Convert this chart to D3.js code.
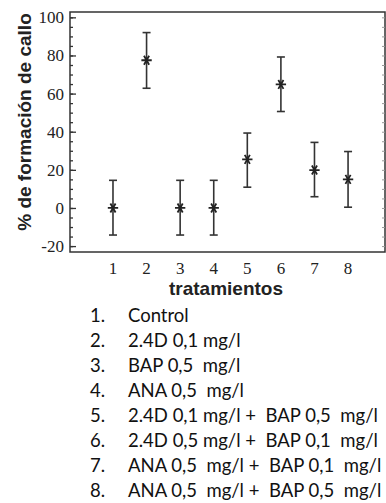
<!DOCTYPE html>
<html>
<head>
<meta charset="utf-8">
<script src="https://cdn.jsdelivr.net/npm/d3@7"></script>
<style>
  body { margin: 0; background: #fff; }
  svg { display: block; }
</style>
</head>
<body>
<svg id="chart" width="386" height="503"></svg>
<script>
// values
const treatments = [1, 2, 3, 4, 5, 6, 7, 8];
const means = [0, 77.5, 0, 0, 25.5, 64.8, 19.9, 15];
const upper = [14.5, 92, 14.5, 14.5, 39.3, 79.2, 34.4, 29.6];
const lower = [-14.2, 62.8, -14.2, -14.2, 10.9, 50.6, 5.9, 0.4];
const yTicks = [-20, 0, 20, 40, 60, 80, 100];
const legendItems = [
  'Control',
  '2.4D 0,1 mg/l',
  'BAP 0,5  mg/l',
  'ANA 0,5  mg/l',
  '2.4D 0,1 mg/l +  BAP 0,5  mg/l',
  '2.4D 0,5 mg/l +  BAP 0,1  mg/l',
  'ANA 0,5  mg/l +  BAP 0,1  mg/l',
  'ANA 0,5  mg/l +  BAP 0,5  mg/l'
];

const ink = '#333';
const box = { left: 70, right: 385, top: 12, bottom: 252 };

const svg = d3.select('#chart');

const x = d3.scaleLinear()
  .domain([-0.28, 9.1])
  .range([box.left, box.right]);

const y = d3.scaleLinear()
  .domain([-23.1, 102.8])
  .range([box.bottom, box.top]);

// frame
svg.append('rect')
  .attr('x', box.left)
  .attr('y', box.top)
  .attr('width', box.right - box.left)
  .attr('height', box.bottom - box.top)
  .attr('fill', 'none')
  .attr('stroke', ink)
  .attr('stroke-width', 1.5);

// left axis: ticks inward
const left = svg.append('g').attr('transform', 'translate(' + box.left + ',0)');
left.call(d3.axisRight(y).tickValues(d3.range(-20, 101, 5)).tickSize(3).tickFormat(''))
  .call(g => g.select('.domain').remove());
left.append('g')
  .call(d3.axisRight(y).tickValues(yTicks).tickSize(6).tickFormat(''))
  .call(g => g.select('.domain').remove());
left.selectAll('line').attr('stroke', ink).attr('stroke-width', 1.3);

// y tick labels, serif
svg.append('g')
  .selectAll('text')
  .data(yTicks)
  .enter()
  .append('text')
  .attr('x', box.left - 6)
  .attr('y', d => y(d))
  .attr('dy', '0.35em')
  .attr('text-anchor', 'end')
  .attr('font-family', '"Liberation Serif", "DejaVu Serif", serif')
  .attr('font-size', 17)
  .attr('fill', '#222')
  .text(d => d);

// right axis: ticks inward
const right = svg.append('g').attr('transform', 'translate(' + box.right + ',0)');
right.call(d3.axisLeft(y).tickValues(d3.range(-20, 101, 5)).tickSize(3).tickFormat(''))
  .call(g => g.select('.domain').remove());
right.selectAll('line').attr('stroke', '#999').attr('stroke-width', 1);

// x tick labels
svg.append('g')
  .selectAll('text')
  .data(treatments)
  .enter()
  .append('text')
  .attr('x', d => x(d))
  .attr('y', 274)
  .attr('text-anchor', 'middle')
  .attr('font-family', '"Liberation Serif", "DejaVu Serif", serif')
  .attr('font-size', 17)
  .attr('fill', '#222')
  .text(d => d);

// error bars
const bars = svg.append('g')
  .selectAll('g')
  .data(treatments)
  .enter()
  .append('g')
  .attr('stroke', ink)
  .attr('stroke-width', 1.6);

bars.append('line')
  .attr('x1', d => x(d)).attr('x2', d => x(d))
  .attr('y1', (d, i) => y(upper[i]))
  .attr('y2', (d, i) => y(lower[i]));
bars.append('line')
  .attr('x1', d => x(d) - 4).attr('x2', d => x(d) + 4)
  .attr('y1', (d, i) => y(upper[i])).attr('y2', (d, i) => y(upper[i]));
bars.append('line')
  .attr('x1', d => x(d) - 4).attr('x2', d => x(d) + 4)
  .attr('y1', (d, i) => y(lower[i])).attr('y2', (d, i) => y(lower[i]));

// asterisk markers
svg.append('g')
  .selectAll('path')
  .data(treatments)
  .enter()
  .append('path')
  .attr('d', d3.symbol(d3.symbolAsterisk, 75))
  .attr('transform', (d, i) => 'translate(' + x(d) + ',' + y(means[i]) + ') rotate(90)')
  .attr('fill', 'none')
  .attr('stroke', '#222')
  .attr('stroke-width', 1.8);

// axis titles
svg.append('text')
  .attr('transform', 'translate(31,122) rotate(-90)')
  .attr('text-anchor', 'middle')
  .attr('font-family', '"Liberation Sans", Arial, sans-serif')
  .attr('font-weight', 'bold')
  .attr('font-size', 19)
  .attr('fill', '#222')
  .text('% de formación de callo');

svg.append('text')
  .attr('x', 226)
  .attr('y', 295)
  .attr('text-anchor', 'middle')
  .attr('font-family', '"Liberation Sans", Arial, sans-serif')
  .attr('font-weight', 'bold')
  .attr('font-size', 19)
  .attr('fill', '#222')
  .text('tratamientos');

// legend of treatments
const legend = svg.append('g')
  .selectAll('g')
  .data(legendItems)
  .enter()
  .append('g')
  .attr('transform', (d, i) => 'translate(0,' + (322 + i * 25) + ')')
  .attr('font-family', 'Lato, sans-serif')
  .attr('font-size', 18.5)
  .attr('fill', '#111');

legend.append('text')
  .attr('x', 90)
  .text((d, i) => (i + 1) + '.');

legend.append('text')
  .attr('x', 128)
  .style('white-space', 'pre')
  .text(d => d);
</script>
</body>
</html>
